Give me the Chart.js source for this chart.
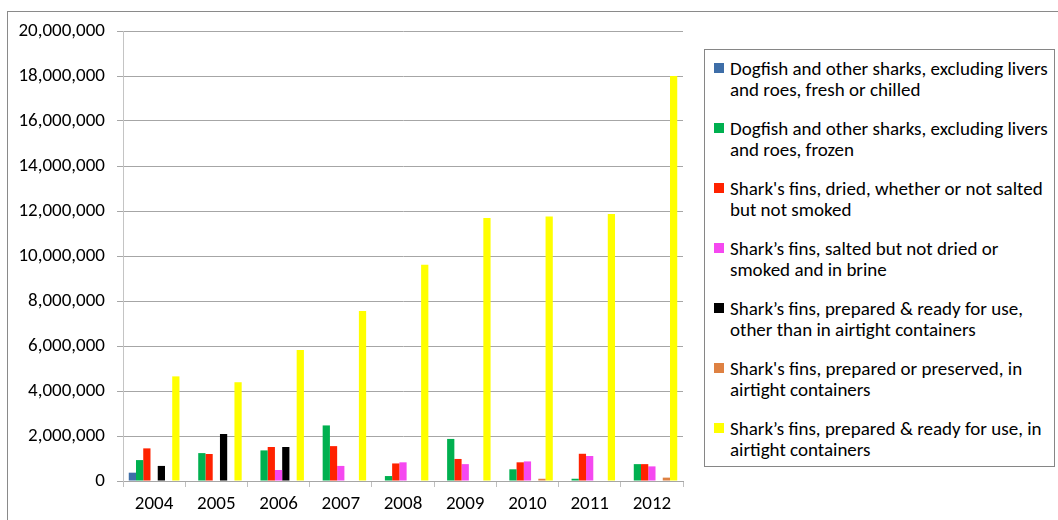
<!DOCTYPE html>
<html>
<head>
<meta charset="utf-8">
<script src="https://cdn.jsdelivr.net/npm/chart.js@4/dist/chart.umd.min.js"></script>
<style>
  html, body { margin: 0; padding: 0; background: #fff; }
  #wrap { position: relative; width: 1058px; height: 520px; overflow: hidden; }
  #chart { position: absolute; left: 0; top: 0; }
  #legend {
    position: absolute; left: 704px; top: 49px; width: 351px; height: 418px;
    border: 1px solid #868686; background: #fff; box-sizing: border-box;
    font-family: "Carlito", "Lato", sans-serif; font-size: 19px; color: #000;
  }
  .li { position: absolute; left: 0; }
  .sw { position: absolute; left: 9px; top: 5px; width: 10px; height: 10px; }
  .tx { position: absolute; left: 25px; white-space: nowrap; line-height: 21px; }
</style>
</head>
<body>
<div id="wrap">
  <canvas id="chart" width="1058" height="520"></canvas>
  <div id="legend"></div>
</div>
<script>
const categories = ['2004', '2005', '2006', '2007', '2008', '2009', '2010', '2011', '2012'];

const dogfishFreshChilled = [370000, null, null, null, null, null, null, null, null];
const dogfishFrozen       = [930000, 1240000, 1360000, 2470000, 220000, 1870000, 520000, 100000, 750000];
const finsDried           = [1450000, 1200000, 1510000, 1550000, 780000, 980000, 830000, 1210000, 750000];
const finsSaltedBrine     = [null, null, 490000, 670000, 830000, 750000, 870000, 1110000, 650000];
const finsReadyOther      = [670000, 2090000, 1510000, null, null, null, null, null, null];
const finsPreservedAirtight = [null, null, null, null, null, null, 100000, null, 150000];
const finsReadyAirtight   = [4650000, 4390000, 5820000, 7560000, 9610000, 11690000, 11760000, 11870000, 18000000];

const seriesLabelLines = [
  ['Dogfish and other sharks, excluding livers', 'and roes, fresh or chilled'],
  ['Dogfish and other sharks, excluding livers', 'and roes, frozen'],
  ["Shark's fins, dried, whether or not salted", 'but not smoked'],
  ['Shark\u2019s fins, salted but not dried or', 'smoked and in brine'],
  ['Shark\u2019s fins, prepared & ready for use,', 'other than in airtight containers'],
  ["Shark's fins, prepared or preserved, in", 'airtight containers'],
  ['Shark\u2019s fins, prepared & ready for use, in', 'airtight containers']
];
const seriesValues = [dogfishFreshChilled, dogfishFrozen, finsDried, finsSaltedBrine, finsReadyOther, finsPreservedAirtight, finsReadyAirtight];
const seriesColors = ['#3E6EA8', '#00B050', '#FF2200', '#F548F0', '#000000', '#DE8142', '#FFFF00'];

const yTickMax = 20000000;
const yTickStep = 2000000;

const FONT = { family: '"Carlito", "Lato", sans-serif', size: 19 };

const datasets = seriesValues.map((vals, i) => ({
  label: seriesLabelLines[i].join(' '),
  legendLines: seriesLabelLines[i],
  data: vals,
  backgroundColor: seriesColors[i],
  borderWidth: 0,
  barPercentage: 1,
  categoryPercentage: 0.815
}));

const outerFrame = {
  id: 'outerFrame',
  beforeDraw(chart) {
    const ctx = chart.ctx;
    ctx.save();
    ctx.fillStyle = '#fff';
    ctx.fillRect(0, 0, chart.width, chart.height);
    ctx.strokeStyle = '#8A8A8A';
    ctx.lineWidth = 1;
    ctx.strokeRect(7.5, 11.5, 1200, 700);
    ctx.restore();
  }
};

const htmlLegend = {
  id: 'htmlLegend',
  afterUpdate(chart) {
    const box = document.getElementById('legend');
    box.innerHTML = '';
    chart.data.datasets.forEach((ds, i) => {
      const item = document.createElement('div');
      item.className = 'li';
      item.style.top = (8 + 60 * i) + 'px';
      const sw = document.createElement('div');
      sw.className = 'sw';
      sw.style.background = ds.backgroundColor;
      const tx = document.createElement('div');
      tx.className = 'tx';
      tx.innerHTML = ds.legendLines.map(s => s.replace(/&/g, '&amp;')).join('<br>');
      item.appendChild(sw);
      item.appendChild(tx);
      box.appendChild(item);
    });
  }
};

new Chart(document.getElementById('chart'), {
  type: 'bar',
  data: { labels: categories, datasets },
  plugins: [outerFrame, htmlLegend],
  options: {
    responsive: false,
    animation: false,
    layout: { padding: { top: 31, right: 375, left: 0, bottom: 0 } },
    plugins: { legend: { display: false }, tooltip: { enabled: false } },
    scales: {
      x: {
        offset: true,
        grid: { display: true, drawOnChartArea: false, drawTicks: true, tickLength: 6, color: '#BFBFBF', offset: true },
        border: { color: '#A6A6A6' },
        ticks: { font: FONT, color: '#000', padding: 6, maxRotation: 0 },
        afterFit(s) { s.height = 39; }
      },
      y: {
        min: 0,
        max: yTickMax,
        grid: { color: '#A6A6A6', tickLength: 6 },
        border: { color: '#C4C4C4' },
        ticks: {
          stepSize: yTickStep,
          font: FONT,
          color: '#000',
          padding: 12,
          callback: v => Number(v).toLocaleString('en-US')
        },
        afterFit(s) { s.width = 123; }
      }
    }
  }
});
</script>
</body>
</html>
